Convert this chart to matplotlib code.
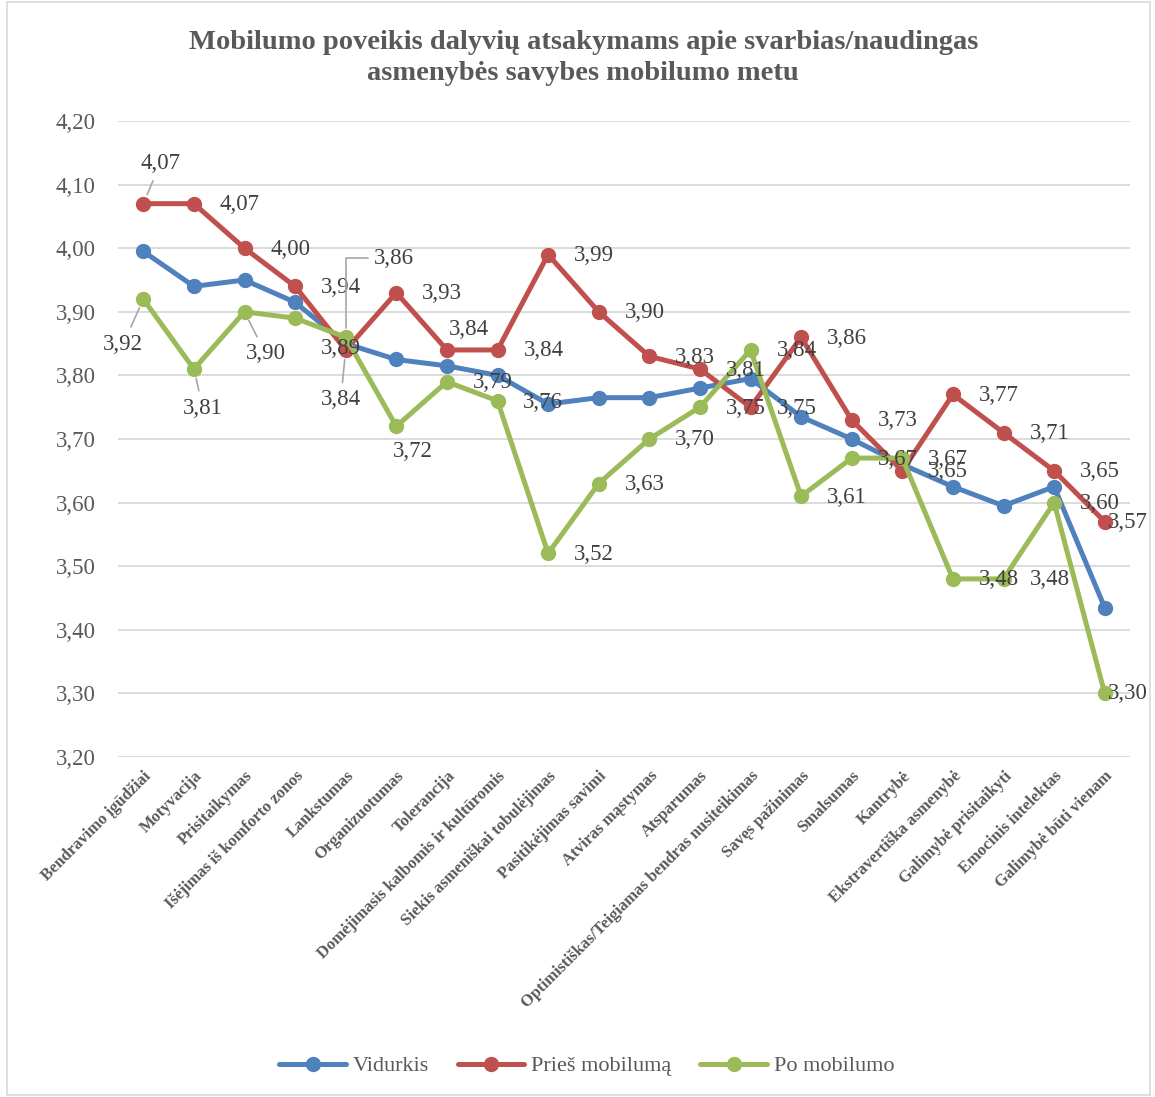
import matplotlib
matplotlib.use("Agg")
import matplotlib.pyplot as plt
from matplotlib.ticker import FuncFormatter, MultipleLocator
from matplotlib.patches import Rectangle

categories = ["Bendravimo įgūdžiai", "Motyvacija", "Prisitaikymas",
              "Išėjimas iš komforto zonos", "Lankstumas", "Organizuotumas",
              "Tolerancija", "Domėjimasis kalbomis ir kultūromis",
              "Siekis asmeniškai tobulėjimas", "Pasitikėjimas savimi",
              "Atviras mąstymas", "Atsparumas",
              "Optimistiškas/Teigiamas bendras nusiteikimas", "Savęs pažinimas",
              "Smalsumas", "Kantrybė", "Ekstravertiška asmenybė",
              "Galimybė prisitaikyti", "Emocinis intelektas", "Galimybė būti vienam"]

vidurkis = [3.995, 3.94, 3.95, 3.915, 3.85, 3.825, 3.815, 3.80, 3.755, 3.765,
            3.765, 3.78, 3.795, 3.735, 3.70, 3.66, 3.625, 3.595, 3.625, 3.435]
pries = [4.07, 4.07, 4.00, 3.94, 3.84, 3.93, 3.84, 3.84, 3.99, 3.90,
         3.83, 3.81, 3.75, 3.86, 3.73, 3.65, 3.77, 3.71, 3.65, 3.57]
po = [3.92, 3.81, 3.90, 3.89, 3.86, 3.72, 3.79, 3.76, 3.52, 3.63,
      3.70, 3.75, 3.84, 3.61, 3.67, 3.67, 3.48, 3.48, 3.60, 3.30]

series_names = ["Vidurkis", "Prieš mobilumą", "Po mobilumo"]
title = "Mobilumo poveikis dalyvių atsakymams apie svarbias/naudingas\nasmenybės savybes mobilumo metu"

# ---- layout / style ----
W, H, DPI = 1155, 1097, 100
colors = ["#4F81BD", "#C0504D", "#9BBB59"]
txt = "#595959"
serif = ["Liberation Serif", "DejaVu Serif"]

# label offsets in pixels (dx right, dy down), leader flag
default_off = (46, 1)
red_off = {0: (17, -40, "line"), 4: (-5, 50, "line"), 6: (22, -20, None), 19: (23, 1, None)}
green_off = {0: (-20, 45, "line"), 1: (9, 39, "line"), 2: (21, 42, "line"),
             3: (46, 30, None), 4: (48, -79, "elbow"), 5: (17, 25, None),
             7: (45, 2, None), 19: (23, 0, None)}

fig = plt.figure(figsize=(W / DPI, H / DPI), dpi=DPI)
fig.patches.append(Rectangle((0.006, 0.002), 0.99, 0.996, transform=fig.transFigure,
                             fill=False, edgecolor="#D9D9D9", linewidth=1.2))
ax = fig.add_axes([118 / W, 1 - 757 / H, (1130 - 118) / W, (757 - 121) / H])

x = list(range(len(categories)))
for vals, c, name in zip([vidurkis, pries, po], colors, series_names):
    ax.plot(x, vals, color=c, linewidth=3.6, marker="o", markersize=10,
            markeredgecolor=c, label=name, solid_capstyle="round", zorder=3)

ax.set_xlim(-0.5, len(categories) - 0.5)
ax.set_ylim(3.20, 4.20)
ax.yaxis.set_major_locator(MultipleLocator(0.1))
ax.yaxis.set_major_formatter(FuncFormatter(lambda v, p: f"{v:.2f}".replace(".", ",")))
ax.grid(axis="y", color="#D9D9D9", linewidth=1.3)
ax.set_axisbelow(True)
for s in ax.spines.values():
    s.set_visible(False)
ax.tick_params(axis="both", length=0)
ax.tick_params(axis="y", pad=16, labelsize=16.5, labelcolor=txt)
for t in ax.get_yticklabels():
    t.set_fontfamily(serif)

ax.set_xticks(x)
ax.set_xticklabels(categories, rotation=45, ha="right", rotation_mode="anchor",
                   fontsize=12, fontweight="bold", color=txt, family=serif)
ax.tick_params(axis="x", pad=8)

px2pt = 72 / DPI


def add_labels(vals, offs):
    for i, v in enumerate(vals):
        dx, dy, kind = offs.get(i, (default_off[0], default_off[1], None))
        kw = {}
        if kind == "line":
            kw["arrowprops"] = dict(arrowstyle="-", color="#A6A6A6", lw=1.2,
                                    shrinkA=3, shrinkB=7)
        elif kind == "elbow":
            kw["arrowprops"] = dict(arrowstyle="-", color="#A6A6A6", lw=1.2,
                                    shrinkA=2, shrinkB=7, relpos=(0, 0.5),
                                    connectionstyle="angle,angleA=0,angleB=90,rad=0")
        ax.annotate(f"{v:.2f}".replace(".", ","), xy=(i, v),
                    xytext=(dx * px2pt, -dy * px2pt), textcoords="offset points",
                    ha="center", va="center", fontsize=16.5, color="#404040",
                    family=serif, zorder=5, **kw)


add_labels(pries, red_off)
add_labels(po, green_off)

fig.text(0.505, 1 - 58 / H, title, ha="center", va="center", fontsize=20.5,
         fontweight="bold", color=txt, family=serif, linespacing=1.3)

leg = fig.legend(loc="center", bbox_to_anchor=(0.508, 1 - 1066 / H), ncol=3,
                 frameon=False, prop={"family": serif, "size": 16},
                 handlelength=3.0, columnspacing=1.3, handletextpad=0.3)
for t in leg.get_texts():
    t.set_color(txt)

fig.savefig("out.png", dpi=DPI)
